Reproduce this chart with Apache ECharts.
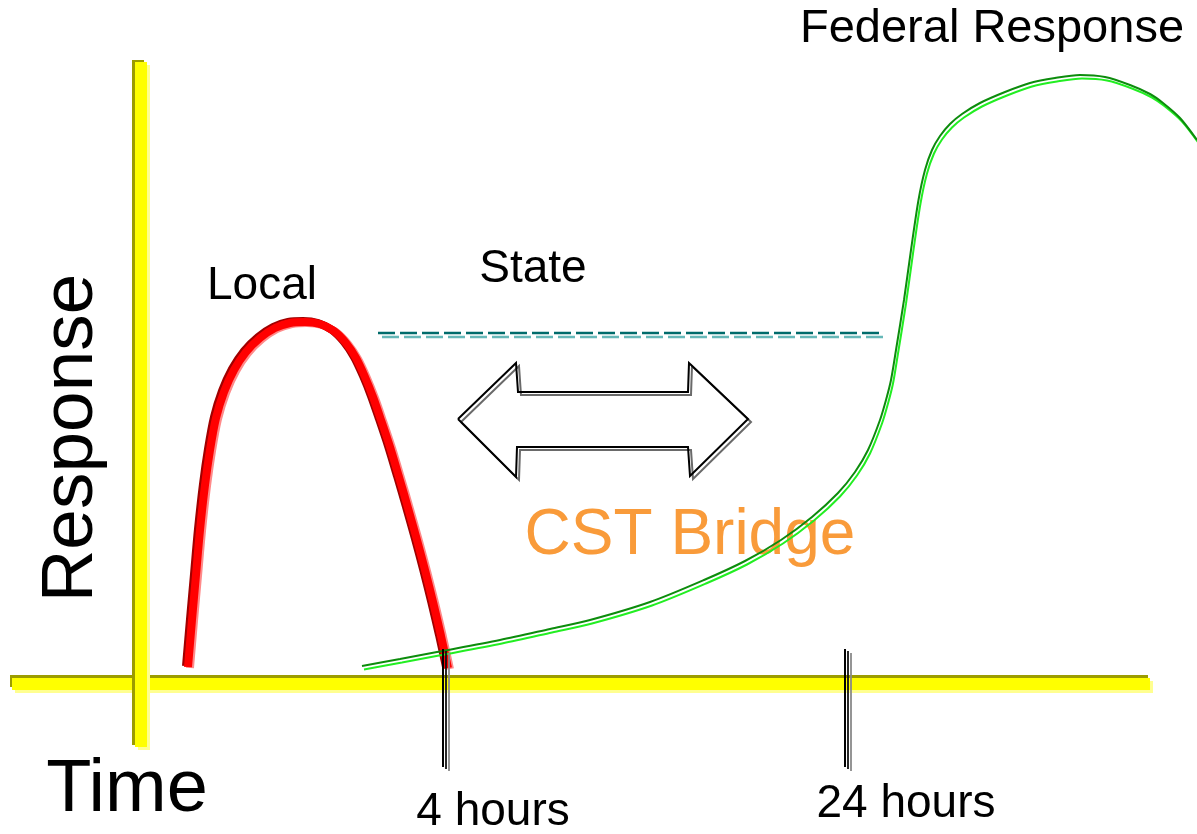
<!DOCTYPE html>
<html style="height: 100%">
   <head>
       <meta charset="utf-8">
   </head>
   <body style="height: 100%; margin: 0; background: #fff">
       <div id="container" style="width: 1197px; height: 834px"></div>
       <script type="text/javascript" src="https://cdn.jsdelivr.net/npm/echarts@6/dist/echarts.min.js"></script>
       <script type="text/javascript">
// unitless time / response scale, origin where the two yellow axes cross
var timeAxis = [[-12.9, 0], [100.9, 0]];
var responseAxis = [[0, 62.2], [0, -6.3]];

var localResponse = [
    [4.7, 1.7], [5.1, 6.4], [5.5, 10.9], [5.9, 15.4], [6.4, 19.9], [6.9, 23.4],
    [7.5, 26.6], [8.3, 29.2], [9.3, 31.4], [10.5, 33.2], [11.9, 34.6], [13.4, 35.6],
    [14.9, 36.1], [16.4, 36.2], [17.9, 36.0], [19.3, 35.3], [20.5, 34.1], [21.5, 32.6],
    [22.4, 30.7], [23.2, 28.7], [24.0, 26.4], [24.9, 23.7], [25.8, 20.7], [26.7, 17.6],
    [27.6, 14.4], [28.45, 11.2], [29.25, 8.0], [30.0, 4.8], [30.7, 1.6]
];

var federalResponse = [
    [22.1, 1.8], [25.9, 2.5], [29.6, 3.2], [35.9, 4.4], [40.9, 5.5], [44.9, 6.4],
    [50.9, 8.2], [56.3, 10.4], [60.4, 12.3], [64.0, 14.4], [67.1, 16.7], [69.7, 19.1],
    [71.4, 21.2], [72.7, 23.4], [73.9, 26.4], [74.5, 28.4], [75.0, 30.4], [75.5, 33.4],
    [76.3, 38.4], [77.0, 43.4], [77.75, 48.4], [78.4, 51.4], [79.1, 53.4], [79.9, 54.8],
    [80.9, 56.0], [82.1, 57.0], [83.9, 58.1], [86.4, 59.2], [88.9, 60.1], [91.4, 60.6],
    [93.9, 60.9], [96.4, 60.7], [98.9, 59.9], [100.9, 59.0], [102.2, 58.1], [103.9, 56.6],
    [105.6, 54.4]
];

var stateLevel = [[23.7, 35.1], [74.0, 35.1]];

var bridgeArrow = [
    [31.7, 26.5], [37.5, 32.1], [37.7, 29.2], [54.7, 29.2], [54.8, 32.1], [60.7, 26.5],
    [54.9, 20.8], [54.7, 23.7], [37.6, 23.7], [37.5, 20.7], [31.7, 26.5]
];

var tickNames = ['4 hours', '24 hours'];
var tickTimes = [30.2, 70.4];
var tickSpan = [3.5, -8.3];

var font = '"Liberation Sans", Arial, sans-serif';

var dom = document.getElementById("container");
var myChart = echarts.init(dom);
var option = null;

function plainLine(name, data, style, z, smooth) {
    return {
        name: name,
        type: 'line',
        data: data,
        showSymbol: false,
        symbol: 'none',
        silent: true,
        smooth: smooth || false,
        z: z,
        lineStyle: style
    };
}

function tickLines(style, z) {
    return {
        type: 'lines',
        coordinateSystem: 'cartesian2d',
        silent: true,
        z: z,
        lineStyle: style,
        data: tickTimes.map(function (t) {
            return {coords: [[t, tickSpan[0]], [t, tickSpan[1]]]};
        })
    };
}

option = {
    animation: false,
    backgroundColor: '#ffffff',
    grid: {left: 0, right: 0, top: 0, bottom: 0},
    xAxis: {type: 'value', min: -14.1, max: 105.6, show: false},
    yAxis: {type: 'value', min: -15.0, max: 68.4, show: false},
    series: [
        // yellow axes: pale edge underneath, olive edge on the top / left
        plainLine('Time', timeAxis, {
            color: '#ffff00', width: 12, cap: 'butt',
            shadowColor: '#ffff90', shadowOffsetX: 3, shadowOffsetY: 3, shadowBlur: 0
        }, 1),
        plainLine('Time', timeAxis, {
            color: '#ffff00', width: 12, cap: 'butt',
            shadowColor: '#9c9c00', shadowOffsetX: -2, shadowOffsetY: -3, shadowBlur: 0
        }, 1),
        plainLine('Response', responseAxis, {
            color: '#ffff00', width: 12, cap: 'butt',
            shadowColor: '#ffff90', shadowOffsetX: 3, shadowOffsetY: 3, shadowBlur: 0
        }, 1),
        plainLine('Response', responseAxis, {
            color: '#ffff00', width: 12, cap: 'butt',
            shadowColor: '#9c9c00', shadowOffsetX: -3, shadowOffsetY: -2, shadowBlur: 0
        }, 1),
        plainLine('Local', localResponse, {
            color: '#ff8080', width: 8,
            shadowColor: '#ff8a8a', shadowOffsetX: 2, shadowOffsetY: 1, shadowBlur: 0
        }, 2, 0.3),
        plainLine('Local', localResponse, {
            color: '#ff0000', width: 8,
            shadowColor: '#a00000', shadowOffsetX: -2, shadowOffsetY: -1, shadowBlur: 0
        }, 3, 0.3),
        plainLine('Federal', federalResponse, {
            color: '#0c8c0c', width: 2,
            shadowColor: '#22ee22', shadowOffsetX: 2, shadowOffsetY: 3.5, shadowBlur: 0
        }, 4, 0.3),
        plainLine('State', stateLevel, {
            color: '#006b6b', width: 2.5, type: [17, 5],
            shadowColor: '#66b8b8', shadowOffsetX: 4, shadowOffsetY: 4, shadowBlur: 0
        }, 3),
        plainLine('Bridge', bridgeArrow, {
            color: '#000000', width: 2, join: 'miter',
            shadowColor: '#6a6a6a', shadowOffsetX: 3, shadowOffsetY: 3, shadowBlur: 0
        }, 3),
        tickLines({
            color: '#000000', width: 1.8, opacity: 1,
            shadowColor: '#8a8a8a', shadowOffsetX: 6, shadowOffsetY: 4, shadowBlur: 0
        }, 5),
        tickLines({
            color: '#000000', width: 1.8, opacity: 1,
            shadowColor: '#111111', shadowOffsetX: 3, shadowOffsetY: 2, shadowBlur: 0
        }, 6)
    ],
    graphic: [
        {type: 'text', x: 992, y: 29, silent: true,
         style: {text: 'Federal Response', font: '47px ' + font, fill: '#000', align: 'center', verticalAlign: 'middle'}},
        {type: 'text', x: 262, y: 286, silent: true,
         style: {text: 'Local', font: '46px ' + font, fill: '#000', align: 'center', verticalAlign: 'middle'}},
        {type: 'text', x: 533, y: 269, silent: true,
         style: {text: 'State', font: '46px ' + font, fill: '#000', align: 'center', verticalAlign: 'middle'}},
        {type: 'text', x: 690, y: 536, silent: true,
         style: {text: 'CST Bridge', font: '64px ' + font, fill: '#f99b3a', align: 'center', verticalAlign: 'middle'}},
        {type: 'text', x: 72, y: 438, rotation: Math.PI / 2, silent: true,
         style: {text: 'Response', font: '73px ' + font, fill: '#000', align: 'center', verticalAlign: 'middle'}},
        {type: 'text', x: 127, y: 791, silent: true,
         style: {text: 'Time', font: '74px ' + font, fill: '#000', align: 'center', verticalAlign: 'middle'}},
        {type: 'text', x: 493, y: 812, silent: true,
         style: {text: tickNames[0], font: '46px ' + font, fill: '#000', align: 'center', verticalAlign: 'middle'}},
        {type: 'text', x: 906, y: 804, silent: true,
         style: {text: tickNames[1], font: '46px ' + font, fill: '#000', align: 'center', verticalAlign: 'middle'}}
    ]
};

if (option && typeof option === "object") {
    myChart.setOption(option, true);
}
       </script>
   </body>
</html>
